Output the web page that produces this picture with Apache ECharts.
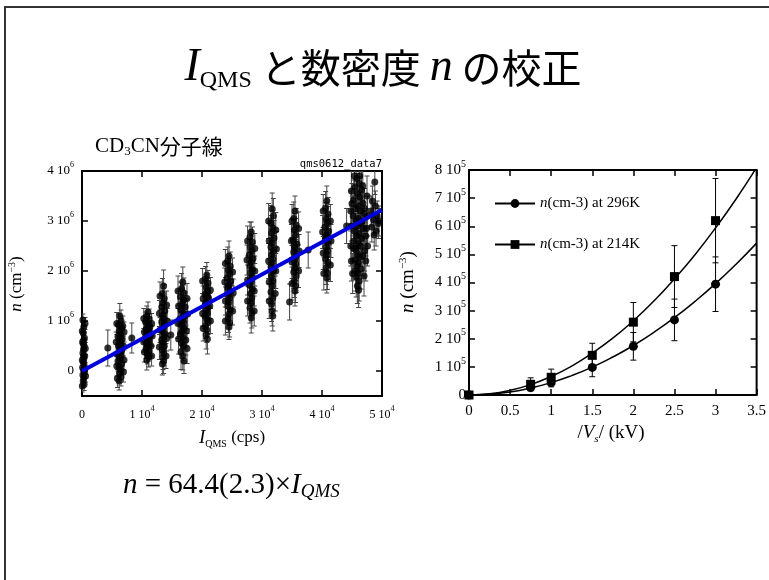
<!DOCTYPE html>
<html><head><meta charset="utf-8">
<script src="https://cdn.jsdelivr.net/npm/echarts@6/dist/echarts.min.js"></script>
<style>html,body{margin:0;padding:0;background:#fff}#c{width:769px;height:580px}</style>
</head><body><div id="c"></div><script>
// ---------- Left chart: calibration data, [I_QMS (cps), n (10^6 cm^-3), error (10^6 cm^-3)] ----------
const calLow = [
  [150,1.02,0.12],[300,0.88,0.12],[200,0.76,0.12],[400,0.66,0.12],[100,0.58,0.12],[350,0.5,0.12],[250,0.43,0.12],
  [150,0.36,0.12],[450,0.3,0.12],[300,0.24,0.12],[200,0.18,0.12],[350,0.12,0.12],[100,0.07,0.12],[250,0.02,0.12],
  [400,-0.03,0.12],[150,-0.08,0.12],[300,-0.14,0.12],[200,-0.2,0.12],[350,-0.27,0.12],[250,0.3,0.12],[200,0.55,0.12],[300,0.62,0.12],
  [500,0.95,0.12],[50,0.8,0.12],[550,0.45,0.12],[50,0.22,0.12],[500,0.05,0.12],[600,-0.1,0.12],[50,-0.3,0.12],
  [4300,0.46,0.36],
  [6300,1.1,0.25],[6500,1.0,0.22],[6100,0.92,0.22],[6600,0.86,0.2],[6200,0.8,0.2],[6400,0.74,0.2],[6000,0.69,0.2],
  [6700,0.64,0.2],[6300,0.6,0.2],[6500,0.55,0.2],[6100,0.5,0.2],[6400,0.46,0.2],[6600,0.41,0.2],[6200,0.36,0.2],
  [6500,0.3,0.2],[6300,0.25,0.2],[6000,0.2,0.2],[6600,0.14,0.2],[6200,0.08,0.2],[6400,0.02,0.2],[6300,-0.05,0.18],
  [6500,-0.12,0.18],[6200,-0.2,0.18],[6400,0.68,0.2],[6300,0.42,0.2],
  [5800,0.95,0.22],[7000,0.78,0.2],[5700,0.58,0.2],[6900,0.5,0.2],[5900,0.33,0.2],[7000,0.22,0.2],[5800,0.1,0.2],
  [6900,-0.02,0.2],[5900,-0.15,0.18],[6800,0.9,0.2],
  [8300,0.66,0.3],
  [11000,1.18,0.2],[10800,1.1,0.2],[11200,1.04,0.2],[10600,0.98,0.2],[11000,0.93,0.2],[11300,0.88,0.2],[10700,0.84,0.2],
  [11100,0.8,0.2],[10900,0.76,0.2],[11400,0.72,0.2],[10600,0.68,0.2],[11000,0.64,0.2],[11200,0.6,0.2],[10800,0.55,0.2],
  [11000,0.5,0.2],[10700,0.45,0.2],[11200,0.4,0.2],[10900,0.34,0.2],[11100,0.28,0.2],[10800,0.22,0.2],[11000,0.86,0.2],
  [10300,1.05,0.2],[11600,0.95,0.2],[10400,0.78,0.2],[11700,0.7,0.2],[10300,0.58,0.2],[11500,0.5,0.2],[10400,0.38,0.2],[11600,0.3,0.2],
  [13600,1.7,0.32],[13400,1.55,0.3],[13700,1.45,0.28],[13500,1.36,0.28],[13300,1.28,0.26],[13800,1.2,0.26],[13500,1.12,0.25],
  [13600,1.05,0.25],[13300,0.98,0.25],[13700,0.92,0.25],[13500,0.86,0.25],[13400,0.8,0.25],[13800,0.74,0.25],[13600,0.68,0.25],
  [13300,0.62,0.25],[13500,0.56,0.25],[13700,0.5,0.25],[13400,0.43,0.25],[13600,0.36,0.25],[13500,0.28,0.25],[13600,0.2,0.25],
  [13400,0.14,0.22],[13700,0.9,0.25],
  [13000,1.5,0.28],[14100,1.32,0.28],[12900,1.15,0.26],[14200,1.0,0.25],[13000,0.82,0.25],[14100,0.65,0.25],[12900,0.48,0.25],[14000,0.3,0.25],
  [14800,0.72,0.3]
];
const calMid = [
  [16800,1.78,0.3],[16600,1.65,0.3],[17000,1.56,0.3],[16400,1.48,0.3],[16900,1.42,0.3],[16700,1.35,0.3],[17200,1.28,0.3],
  [16500,1.22,0.3],[16800,1.16,0.3],[17100,1.1,0.3],[16300,1.04,0.3],[16900,0.98,0.3],[16600,0.92,0.3],[17000,0.86,0.3],
  [16700,0.8,0.3],[16400,0.74,0.3],[16800,0.68,0.3],[17300,0.62,0.3],[16600,0.56,0.3],[16900,0.5,0.3],[16500,0.38,0.35],
  [16800,0.3,0.28],[17000,0.2,0.25],[16700,1.05,0.3],
  [16000,1.6,0.3],[17500,1.45,0.3],[16100,1.3,0.3],[17600,1.14,0.3],[16000,0.95,0.3],[17400,0.8,0.3],[16100,0.64,0.3],[17500,0.45,0.3],
  [20800,1.92,0.25],[20600,1.84,0.25],[21000,1.76,0.25],[20700,1.68,0.25],[20900,1.6,0.25],[20500,1.53,0.25],[21100,1.46,0.25],
  [20800,1.4,0.25],[20600,1.34,0.25],[21000,1.28,0.25],[20700,1.22,0.25],[20900,1.16,0.25],[20500,1.1,0.25],[20800,1.04,0.25],
  [21000,0.98,0.25],[20600,0.9,0.25],[20800,0.82,0.25],[20700,0.72,0.28],[20900,0.64,0.3],[20800,1.5,0.25],
  [20100,1.8,0.25],[21400,1.62,0.25],[20200,1.45,0.25],[21300,1.3,0.25],[20100,1.15,0.25],[21400,1.0,0.25],[20200,0.85,0.25],
  [24500,2.3,0.3],[24300,2.2,0.28],[24700,2.1,0.28],[24400,2.02,0.28],[24600,1.94,0.28],[24200,1.86,0.28],[24800,1.8,0.28],
  [24500,1.73,0.28],[24300,1.66,0.28],[24700,1.6,0.28],[24400,1.53,0.28],[24600,1.46,0.28],[24500,1.38,0.28],[24300,1.3,0.28],
  [24700,1.22,0.28],[24500,1.14,0.28],[24400,1.05,0.28],[24600,0.96,0.28],[24500,0.88,0.25],[24400,1.7,0.28],
  [23900,2.15,0.28],[25100,1.98,0.28],[23800,1.78,0.28],[25200,1.56,0.28],[23900,1.4,0.28],[25100,1.2,0.28],[23900,1.0,0.28],
  [28200,2.78,0.2],[28000,2.68,0.3],[28400,2.58,0.3],[28100,2.48,0.3],[28300,2.4,0.3],[27900,2.32,0.3],[28500,2.25,0.3],
  [28200,2.18,0.3],[28000,2.1,0.3],[28400,2.03,0.3],[28100,1.96,0.3],[28300,1.88,0.3],[28200,1.8,0.3],[27900,1.72,0.3],
  [28400,1.64,0.3],[28100,1.55,0.3],[28300,1.46,0.3],[28200,1.36,0.3],[28000,1.26,0.3],[28300,1.16,0.3],[28200,1.06,0.3],
  [27600,2.6,0.3],[28800,2.45,0.3],[27500,2.22,0.3],[28800,2.0,0.3],[27600,1.82,0.3],[28700,1.6,0.3],[27600,1.4,0.3],[28700,1.2,0.3]
];
const calHigh = [
  [31700,3.24,0.32],[31900,3.1,0.35],[31500,2.96,0.35],[31800,2.86,0.35],[31600,2.76,0.35],[32000,2.66,0.35],[31700,2.56,0.35],
  [31500,2.48,0.35],[31900,2.4,0.35],[31600,2.32,0.35],[31800,2.24,0.35],[31700,2.16,0.35],[31500,2.08,0.35],[31900,2.0,0.35],
  [31600,1.9,0.35],[31800,1.8,0.35],[31700,1.7,0.35],[31500,1.58,0.35],[31800,1.46,0.35],[31600,1.34,0.35],[31700,1.2,0.3],[31800,1.1,0.3],
  [31100,3.0,0.35],[32300,2.82,0.35],[31200,2.6,0.35],[32400,2.44,0.35],[31100,2.2,0.35],[32300,2.0,0.35],[31200,1.78,0.35],
  [32200,1.55,0.35],[31200,1.4,0.35],
  [34600,1.38,0.36],
  [35500,3.2,0.3],[35300,3.05,0.33],[35700,2.92,0.33],[35400,2.82,0.33],[35600,2.72,0.33],[35200,2.62,0.33],[35800,2.54,0.33],
  [35500,2.46,0.33],[35300,2.38,0.33],[35700,2.3,0.33],[35400,2.22,0.33],[35600,2.14,0.33],[35500,2.06,0.33],[35300,1.98,0.33],
  [35700,1.9,0.33],[35400,1.8,0.33],[35600,1.7,0.33],[35500,1.6,0.3],[35400,2.5,0.33],
  [35000,3.0,0.33],[36100,2.85,0.33],[34900,2.6,0.33],[36200,2.4,0.33],[35000,2.18,0.33],[36100,2.0,0.33],[35000,1.75,0.33],
  [37700,2.42,0.36],
  [40800,3.4,0.3],[40600,3.26,0.33],[41000,3.14,0.33],[40700,3.04,0.33],[40900,2.96,0.33],[40500,2.88,0.33],[41100,2.8,0.33],
  [40800,2.72,0.33],[40600,2.64,0.33],[41000,2.56,0.33],[40700,2.48,0.33],[40900,2.4,0.33],[40800,2.32,0.33],[40600,2.24,0.33],
  [41000,2.16,0.33],[40700,2.06,0.33],[40900,1.96,0.33],[40800,1.86,0.3],[40700,2.7,0.33],
  [40200,3.2,0.33],[41400,3.0,0.33],[40100,2.78,0.33],[41500,2.6,0.33],[40200,2.36,0.33],[41400,2.12,0.33],[40300,1.95,0.33],
  [44100,2.9,0.35],
  [45800,3.85,0.4],[46200,3.75,0.4],[45500,3.68,0.4],[46600,3.62,0.4],[45900,3.55,0.4],[46300,3.48,0.4],[45300,3.42,0.4],
  [46800,3.36,0.4],[46000,3.3,0.4],[45600,3.25,0.4],[46400,3.2,0.4],[47000,3.15,0.4],[45200,3.1,0.4],[46100,3.05,0.4],
  [45700,3.0,0.4],[46500,2.95,0.4],[45900,2.9,0.4],[46900,2.85,0.4],[45400,2.8,0.4],[46200,2.75,0.4],[45800,2.7,0.4],
  [46600,2.65,0.4],[45300,2.6,0.4],[46000,2.55,0.4],[46400,2.5,0.4],[45600,2.44,0.4],[47100,2.4,0.4],[45900,2.34,0.4],
  [46300,2.28,0.4],[45500,2.22,0.4],[46100,2.16,0.4],[45800,2.1,0.4],[46500,2.04,0.4],[46000,1.96,0.4],[45700,1.88,0.4],
  [46200,1.8,0.4],[45900,1.7,0.35],[46100,1.62,0.35],[46700,3.0,0.4],[47300,2.7,0.4],
  [44900,3.6,0.4],[47500,3.5,0.4],[44800,3.2,0.4],[47600,3.1,0.4],[44900,2.9,0.4],[47400,2.85,0.4],[44800,2.5,0.4],
  [47600,2.5,0.4],[44900,2.2,0.4],[47300,2.2,0.4],[45100,1.95,0.4],[47000,1.9,0.4],[46300,3.9,0.4],[45400,3.9,0.4],
  [46800,3.7,0.4],[45000,3.35,0.4],[47100,3.25,0.4],[45300,2.45,0.4],[46800,2.3,0.4],[45600,2.0,0.4],
  [48800,3.78,0.25],[48400,3.4,0.3],[48900,3.3,0.3],[48200,3.2,0.3],[49200,3.1,0.3],[48600,3.02,0.3],[49400,2.95,0.3],
  [48300,2.88,0.3],[49000,2.8,0.3],[48700,2.72,0.3],[49500,3.0,0.3]
];
// fit n = 64.4 x I_QMS, endpoints [cps, 10^6 cm^-3]
const fitLine = [[0, 0], [50000, 3.22]];
const leftYTicks = [0, 1, 2, 3, 4];

// ---------- Right chart ----------
const voltage = [0, 0.75, 1, 1.5, 2, 2.5, 3];
const n296 = [0, 26000, 44000, 98000, 173000, 267000, 394000];
const n296Err = [0, 10000, 15000, 33000, 49000, 74000, 97000];
const n214 = [0, 38000, 63000, 141000, 259000, 421000, 620000];
const n214Err = [0, 23000, 29000, 43000, 70000, 110000, 150000];
const curveV = [0, 0.25, 0.5, 0.75, 1, 1.25, 1.5, 1.75, 2, 2.25, 2.5, 2.75, 3, 3.25, 3.5];
const curve296 = [0, 2750, 11000, 25000, 44000, 69000, 99000, 135000, 176000, 223000, 275000, 333000, 396000, 465000, 540000];
const curve214 = [0, 4100, 16500, 37000, 66000, 103000, 149000, 202000, 264000, 334000, 413000, 499000, 594000, 697000, 809000];
const name296 = 'n(cm-3) at 296K';
const name214 = 'n(cm-3) at 214K';

const SERIF = '"Liberation Serif","Times New Roman",serif';
const CJK = '"Noto Sans CJK JP","Noto Sans CJK SC",sans-serif';

function errBar(color, cap, lw) {
  return function (params, api) {
    const x = api.value(0), y = api.value(1), e = api.value(2);
    const t = api.coord([x, y + e]), b = api.coord([x, y - e]);
    const st = { stroke: color, lineWidth: lw };
    return { type: 'group', children: [
      { type: 'line', shape: { x1: t[0], y1: t[1], x2: b[0], y2: b[1] }, style: st },
      { type: 'line', shape: { x1: t[0] - cap, y1: t[1], x2: t[0] + cap, y2: t[1] }, style: st },
      { type: 'line', shape: { x1: b[0] - cap, y1: b[1], x2: b[0] + cap, y2: b[1] }, style: st }
    ] };
  };
}

const calAll = calLow.concat(calMid, calHigh);
const supRich = (fs) => ({
  b: { fontFamily: SERIF, fontSize: fs, color: '#000', lineHeight: fs + 7 },
  s: { fontFamily: SERIF, fontSize: Math.round(fs * 0.65), color: '#000', lineHeight: 8, verticalAlign: 'top' }
});
const tickIn = { show: true, inside: true, length: 6, lineStyle: { color: '#000', width: 1.5 } };
const noLine = { show: false, onZero: false };

const chart = echarts.init(document.getElementById('c'), null, { renderer: 'canvas' });
chart.setOption({
  animation: false,
  backgroundColor: '#fff',
  grid: [
    { left: 82, top: 171, width: 300, height: 225, show: true, borderColor: '#000', borderWidth: 2 },
    { left: 469, top: 170, width: 292, height: 225, show: true, borderColor: '#000', borderWidth: 2 }
  ],
  xAxis: [
    { type: 'value', gridIndex: 0, min: 0, max: 50000, interval: 10000, axisLine: noLine, splitLine: { show: false },
      axisTick: tickIn,
      axisLabel: { margin: 9, rich: supRich(12), formatter: v => v === 0 ? '{b|0}' : '{b|' + (v / 10000) + ' 10}{s|4}' } },
    { type: 'value', gridIndex: 0, position: 'top', min: 0, max: 50000, interval: 10000, axisLine: noLine,
      splitLine: { show: false }, axisTick: tickIn, axisLabel: { show: false } },
    { type: 'value', gridIndex: 1, min: 0, max: 3.5, interval: 0.5, axisLine: noLine, splitLine: { show: false },
      axisTick: tickIn, axisLabel: { margin: 9, fontFamily: SERIF, fontSize: 15, color: '#000' } },
    { type: 'value', gridIndex: 1, position: 'top', min: 0, max: 3.5, interval: 0.5, axisLine: noLine,
      splitLine: { show: false }, axisTick: tickIn, axisLabel: { show: false } }
  ],
  yAxis: [
    { type: 'value', gridIndex: 0, min: -0.5, max: 4, axisLine: noLine, splitLine: { show: false },
      axisTick: Object.assign({ customValues: leftYTicks }, tickIn),
      axisLabel: { margin: 8, customValues: leftYTicks, rich: supRich(13),
        formatter: v => v < 0 || v % 1 !== 0 ? '' : (v === 0 ? '{b|0}' : '{b|' + v + ' 10}{s|6}') } },
    { type: 'value', gridIndex: 0, position: 'right', min: -0.5, max: 4, axisLine: noLine, splitLine: { show: false },
      axisTick: Object.assign({ customValues: leftYTicks }, tickIn), axisLabel: { show: false } },
    { type: 'value', gridIndex: 1, min: 0, max: 800000, interval: 100000, axisLine: noLine, splitLine: { show: false },
      axisTick: tickIn,
      axisLabel: { margin: 3, rich: supRich(15), formatter: v => v === 0 ? '{b|0}' : '{b|' + Math.round(v / 100000) + ' 10}{s|5}' } },
    { type: 'value', gridIndex: 1, position: 'right', min: 0, max: 800000, interval: 100000, axisLine: noLine,
      splitLine: { show: false }, axisTick: tickIn, axisLabel: { show: false } }
  ],
  legend: {
    data: [name296, name214], left: 489, top: 191, orient: 'vertical', itemWidth: 40, itemHeight: 11, itemGap: 26,
    lineStyle: { width: 2, color: '#000', opacity: 1 },
    textStyle: { fontFamily: SERIF, fontSize: 15, color: '#000',
      rich: { i: { fontFamily: SERIF, fontStyle: 'italic', fontSize: 15, color: '#000' } } },
    formatter: name => '{i|n}' + name.slice(1)
  },
  series: [
    { type: 'custom', xAxisIndex: 0, yAxisIndex: 0, data: calAll, renderItem: errBar('#444', 2.5, 1), clip: true, z: 2 },
    { type: 'scatter', xAxisIndex: 0, yAxisIndex: 0, data: calAll.map(p => [p[0], p[1]]), symbol: 'circle', symbolSize: 7,
      itemStyle: { color: '#000' }, clip: true, z: 3 },
    { type: 'line', xAxisIndex: 0, yAxisIndex: 0, data: fitLine, symbol: 'none', lineStyle: { color: '#0000e0', width: 4 }, z: 4 },

    { type: 'custom', xAxisIndex: 2, yAxisIndex: 2, data: voltage.map((v, i) => [v, n296[i], n296Err[i]]),
      renderItem: errBar('#000', 3, 1), clip: true, z: 2 },
    { type: 'custom', xAxisIndex: 2, yAxisIndex: 2, data: voltage.map((v, i) => [v, n214[i], n214Err[i]]),
      renderItem: errBar('#000', 3, 1), clip: true, z: 2 },
    { type: 'line', name: 'fit296', xAxisIndex: 2, yAxisIndex: 2, data: curveV.map((v, i) => [v, curve296[i]]), smooth: true,
      symbol: 'none', lineStyle: { color: '#000', width: 1.5 }, clip: true, z: 3 },
    { type: 'line', name: 'fit214', xAxisIndex: 2, yAxisIndex: 2, data: curveV.map((v, i) => [v, curve214[i]]), smooth: true,
      symbol: 'none', lineStyle: { color: '#000', width: 1.5 }, clip: true, z: 3 },
    { type: 'line', name: name296, xAxisIndex: 2, yAxisIndex: 2, data: voltage.map((v, i) => [v, n296[i]]),
      symbol: 'circle', symbolSize: 9, showAllSymbol: true, itemStyle: { color: '#000' },
      lineStyle: { opacity: 0 }, clip: false, z: 4 },
    { type: 'line', name: name214, xAxisIndex: 2, yAxisIndex: 2, data: voltage.map((v, i) => [v, n214[i]]),
      symbol: 'rect', symbolSize: 9, showAllSymbol: true, itemStyle: { color: '#000' },
      lineStyle: { opacity: 0 }, clip: false, z: 4 }
  ],
  graphic: [
    { type: 'rect', shape: { x: 5, y: 7, width: 820, height: 640 }, style: { fill: 'none', stroke: '#333', lineWidth: 2 }, z: -10 },
    { type: 'text', x: 383, y: 68, style: {
      text: '{i|I}{sub|QMS}{c| と数密度 }{i|n}{c| の校正}', align: 'center', verticalAlign: 'middle',
      rich: {
        i: { fontFamily: SERIF, fontStyle: 'italic', fontSize: 46, fill: '#000', lineHeight: 50 },
        sub: { fontFamily: SERIF, fontSize: 24, fill: '#000', lineHeight: 24, verticalAlign: 'bottom' },
        c: { fontFamily: CJK, fontSize: 40, fill: '#000', lineHeight: 50 }
      } } },
    { type: 'text', x: 95, y: 146, style: {
      text: '{t|CD}{s|3}{t|CN}{c|分子線}', align: 'left', verticalAlign: 'middle',
      rich: {
        t: { fontFamily: SERIF, fontSize: 21, fill: '#000', lineHeight: 25 },
        s: { fontFamily: SERIF, fontSize: 13, fill: '#000', lineHeight: 13, verticalAlign: 'bottom' },
        c: { fontFamily: CJK, fontSize: 21, fill: '#000', lineHeight: 25 }
      } } },
    { type: 'text', x: 382, y: 164, style: { text: 'qms0612_data7', align: 'right', verticalAlign: 'middle',
      font: '10.5px "DejaVu Sans Mono", monospace', fill: '#000' } },
    { type: 'text', x: 232, y: 438, style: {
      text: '{i|I}{s|QMS}{t| (cps)}', align: 'center', verticalAlign: 'middle',
      rich: {
        i: { fontFamily: SERIF, fontStyle: 'italic', fontSize: 19, fill: '#000', lineHeight: 22 },
        s: { fontFamily: SERIF, fontSize: 10, fill: '#000', lineHeight: 10, verticalAlign: 'bottom' },
        t: { fontFamily: SERIF, fontSize: 17, fill: '#000', lineHeight: 22 }
      } } },
    { type: 'text', x: 17, y: 284, rotation: Math.PI / 2, style: {
      text: '{i|n}{t| (cm}{s|−3}{t|)}', align: 'center', verticalAlign: 'middle',
      rich: {
        i: { fontFamily: SERIF, fontStyle: 'italic', fontSize: 17, fill: '#000', lineHeight: 19 },
        t: { fontFamily: SERIF, fontSize: 17, fill: '#000', lineHeight: 19 },
        s: { fontFamily: SERIF, fontSize: 10, fill: '#000', lineHeight: 10, verticalAlign: 'top' }
      } } },
    { type: 'text', x: 123, y: 485, style: {
      text: '{i|n}{t| = 64.4(2.3)×}{i|I}{s|QMS}', align: 'left', verticalAlign: 'middle',
      rich: {
        i: { fontFamily: SERIF, fontStyle: 'italic', fontSize: 29, fill: '#000', lineHeight: 32 },
        t: { fontFamily: SERIF, fontSize: 29, fill: '#000', lineHeight: 32 },
        s: { fontFamily: SERIF, fontStyle: 'italic', fontSize: 19, fill: '#000', lineHeight: 19, verticalAlign: 'bottom' }
      } } },
    { type: 'text', x: 408, y: 282, rotation: Math.PI / 2, style: {
      text: '{i|n}{t| (cm}{s|−3}{t|)}', align: 'center', verticalAlign: 'middle',
      rich: {
        i: { fontFamily: SERIF, fontStyle: 'italic', fontSize: 19, fill: '#000', lineHeight: 21 },
        t: { fontFamily: SERIF, fontSize: 19, fill: '#000', lineHeight: 21 },
        s: { fontFamily: SERIF, fontSize: 11, fill: '#000', lineHeight: 11, verticalAlign: 'top' }
      } } },
    { type: 'text', x: 611, y: 433, style: {
      text: '{t|/}{i|V}{s|s}{t|/ (kV)}', align: 'center', verticalAlign: 'middle',
      rich: {
        i: { fontFamily: SERIF, fontStyle: 'italic', fontSize: 19, fill: '#000', lineHeight: 24 },
        t: { fontFamily: SERIF, fontSize: 19, fill: '#000', lineHeight: 24 },
        s: { fontFamily: SERIF, fontStyle: 'italic', fontSize: 11, fill: '#000', lineHeight: 11, verticalAlign: 'bottom' }
      } } }
  ]
});
</script></body></html>
